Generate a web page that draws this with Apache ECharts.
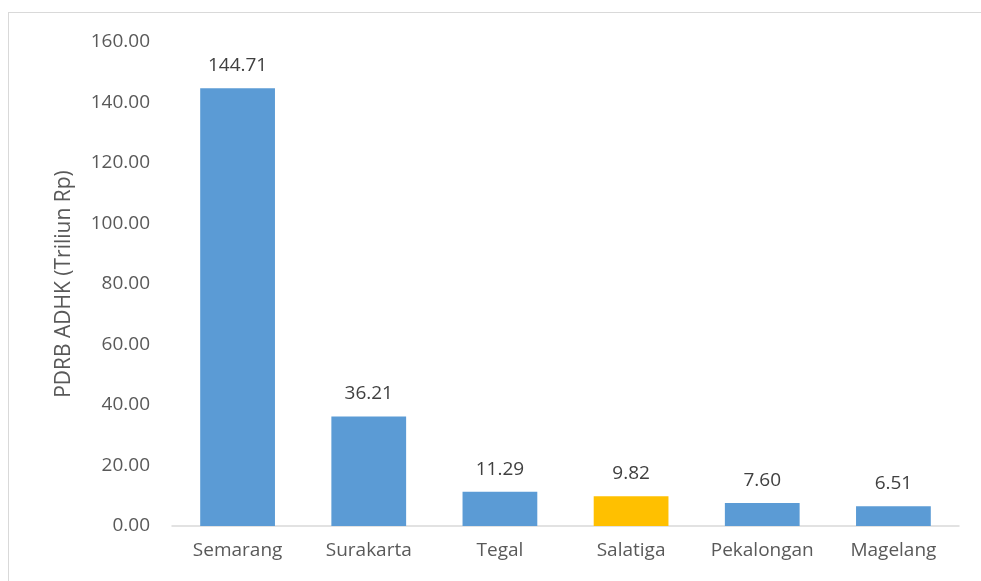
<!DOCTYPE html>
<html>
<head>
<meta charset="utf-8">
<script src="https://cdn.jsdelivr.net/npm/echarts@6/dist/echarts.min.js"></script>
<style>
  html, body { margin: 0; padding: 0; background: #fff; }
  #frame {
    position: absolute; left: 8px; top: 12px; width: 975px; height: 575px;
    border: 1px solid #d9d9d9; box-sizing: border-box;
  }
  #chart { position: absolute; left: 0; top: 0; width: 981px; height: 581px; }
</style>
</head>
<body>
<div id="frame"></div>
<div id="chart"></div>
<script>
// data
const cities = ['Semarang', 'Surakarta', 'Tegal', 'Salatiga', 'Pekalongan', 'Magelang'];
const pdrb = [144.71, 36.21, 11.29, 9.82, 7.60, 6.51];
const highlight = 'Salatiga';

const font = '"Open Sans", "Noto Sans", sans-serif';
const chart = echarts.init(document.getElementById('chart'));

chart.setOption({
  animation: false,
  textStyle: { fontFamily: font },
  grid: { left: 172, right: 22, top: 42, bottom: 55 },
  xAxis: {
    type: 'category',
    data: cities,
    axisLine: { lineStyle: { color: '#d9d9d9', width: 1.5 } },
    axisTick: { show: false },
    axisLabel: { color: '#595959', fontSize: 19, margin: 15, interval: 0, fontFamily: font }
  },
  yAxis: {
    type: 'value',
    min: 0, max: 160, interval: 20,
    name: 'PDRB ADHK (Triliun Rp)',
    nameLocation: 'middle',
    nameGap: 97,
    nameTextStyle: { color: '#595959', fontSize: 21, fontFamily: font },
    splitLine: { show: false },
    axisLine: { show: false },
    axisTick: { show: false },
    axisLabel: {
      color: '#595959', fontSize: 19, margin: 22, fontFamily: font,
      formatter: v => v.toFixed(2)
    }
  },
  series: [{
    type: 'bar',
    barWidth: '57%',
    data: pdrb.map((v, i) => ({
      value: v,
      itemStyle: { color: cities[i] === highlight ? '#ffc000' : '#5b9bd5' }
    })),
    label: {
      show: true, position: 'top', distance: 13,
      color: '#404040', fontSize: 19, fontFamily: font,
      formatter: p => p.value.toFixed(2)
    }
  }]
});
</script>
</body>
</html>
